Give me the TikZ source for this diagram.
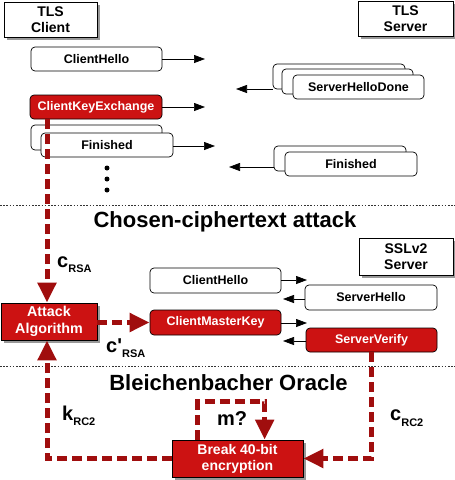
\documentclass[tikz,border=0pt]{standalone}
\usepackage{fontspec}
\setmainfont{Liberation Sans}
\usetikzlibrary{arrows.meta,shadows}
\definecolor{boxred}{RGB}{204,18,18}
\definecolor{linered}{RGB}{160,14,14}
\begin{document}
\begin{tikzpicture}[x=1pt,y=-1pt,
  msg/.style={draw=black, line width=0.7pt, rounded corners=4pt, fill=white, minimum width=131pt, minimum height=24pt, inner sep=0pt, font=\fontsize{12.5}{14}\selectfont\bfseries},
  redmsg/.style={msg, fill=boxred, text=white},
  hdr/.style={draw=black, line width=0.7pt, fill=white, inner sep=0pt, align=center, font=\fontsize{14}{15.5}\selectfont\bfseries, drop shadow={shadow xshift=3pt, shadow yshift=-3pt, fill=black!40, opacity=1}},
  redbig/.style={hdr, fill=boxred, text=white, font=\fontsize{14.3}{16.5}\selectfont\bfseries},
  arr/.style={line width=0.7pt, -{Triangle[length=11pt,width=8pt]}},
  reddash/.style={draw=linered, line width=5pt, dash pattern=on 10pt off 5pt},
  redarr/.style={reddash, -{Triangle[length=20pt,width=18pt]}},
  sep/.style={line width=0.8pt, dash pattern=on 1.6pt off 1.6pt, black!80},
  lab/.style={font=\fontsize{20}{20}\selectfont\bfseries, inner sep=0pt, anchor=base west},
  title/.style={font=\fontsize{22}{22}\selectfont\bfseries, inner sep=0pt, anchor=base},
  dot/.style={circle, fill=black, inner sep=0pt, minimum size=5pt}
]
\useasboundingbox (0,0) rectangle (455,480);

% separators
\coordinate (s1a) at (0,205); \coordinate (s1b) at (455,205);
\coordinate (s2a) at (0,366); \coordinate (s2b) at (455,366);
\draw[sep] (s1a) -- (s1b);
\draw[sep] (s2a) -- (s2b);

% headers
\node[hdr, minimum width=93pt, minimum height=35pt] (tlsc) at (50.5,19.5) {TLS\\Client};
\node[hdr, minimum width=95pt, minimum height=35pt] (tlss) at (405.5,18.5) {TLS\\Server};
\node[hdr, minimum width=94pt, minimum height=37pt] (sslv) at (406,256.5) {SSLv2\\Server};

% arrow end points
\coordinate (e1) at (205,59);
\coordinate (e2) at (205,107);
\coordinate (e3) at (215,146);
\coordinate (e4) at (236,89);
\coordinate (e5) at (229,167);
\coordinate (e6) at (307,280);
\coordinate (e7) at (283,299);
\coordinate (e8) at (307,323);
\coordinate (e9) at (283,341);

% TLS client messages
\node[msg] (ch) at (96.5,59) {ClientHello};
\node[redmsg, minimum width=132pt] (cke) at (96,107) {ClientKeyExchange};
\node[msg, minimum height=25pt] (cf1) at (96.5,137.5) {};
\node[msg, minimum width=132pt] (cf2) at (107,145) {Finished};

% TLS server messages
\node[msg, minimum width=132pt, minimum height=25pt] (shd1) at (339,76.5) {};
\node[msg, minimum height=25pt] (shd2) at (347.5,81.5) {};
\node[msg] (shd3) at (358.5,87) {ServerHelloDone};
\node[msg, minimum width=132pt, minimum height=25pt] (sf1) at (340,158.5) {};
\node[msg, minimum width=132pt] (sf2) at (351,164) {Finished};

\draw[arr] (ch.east) -- (e1);
\draw[arr] (cke.east) -- (e2);
\draw[arr] (e3 -| cf2.east) -- (e3);
\draw[arr] (e4 -| shd1.west) -- (e4);
\draw[arr] (e5 -| sf1.west) -- (e5);

\node[dot] (d1) at (107,168) {};
\node[dot] (d2) at (107,179) {};
\node[dot] (d3) at (107,190) {};

% SSLv2 messages
\node[msg, minimum height=25pt] (ch2) at (215.5,280.5) {ClientHello};
\node[msg, minimum width=132pt, minimum height=25pt] (sh2) at (371,297.5) {ServerHello};
\node[redmsg, minimum height=25pt] (cmk) at (215.5,322.5) {ClientMasterKey};
\node[redmsg] (sv) at (371.5,340) {ServerVerify};

\draw[arr] (e6 -| ch2.east) -- (e6);
\draw[arr] (e7 -| sh2.west) -- (e7);
\draw[arr] (e8 -| cmk.east) -- (e8);
\draw[arr] (e9 -| sv.west) -- (e9);

% attack boxes
\node[redbig, minimum width=96pt, minimum height=37pt] (att) at (49,321.5) {Attack\\Algorithm};
\node[redbig, minimum width=131pt, minimum height=37pt, font=\fontsize{14}{16}\selectfont\bfseries] (brk) at (237.5,458.5) {Break 40-bit\\encryption};

% titles
\node[title] (t1) at (225,227) {Chosen-ciphertext attack};
\node[title] (t2) at (228.5,390) {Bleichenbacher Oracle};

% red dashed connectors
\draw[redarr] ([xshift=-2pt]att.north |- cke.south) -- ([xshift=-2pt]att.north);
\draw[redarr] (att.east |- cmk.west) -- (cmk.west);
\draw[redarr] (brk.west) -| ([xshift=-2pt]att.south);
\draw[redarr] (sv.south) |- (brk.east);
\draw[redarr] ([xshift=26pt]brk.north west) -- ++(0,-38) -| ([xshift=93pt]brk.north west);

% labels
\node[lab] (l1) at (57,267) {c\raisebox{-5pt}{\fontsize{11}{11}\selectfont RSA}};
\node[lab] (l2) at (106,352) {c\textquotesingle\raisebox{-5pt}{\fontsize{11}{11}\selectfont RSA}};
\node[lab] (l3) at (62,420) {k\raisebox{-5pt}{\fontsize{11}{11}\selectfont RC2}};
\node[lab] (l4) at (390,420) {c\raisebox{-6pt}{\fontsize{11}{11}\selectfont RC2}};
\node[lab] (l5) at (217,425) {m?};
\end{tikzpicture}
\end{document}
